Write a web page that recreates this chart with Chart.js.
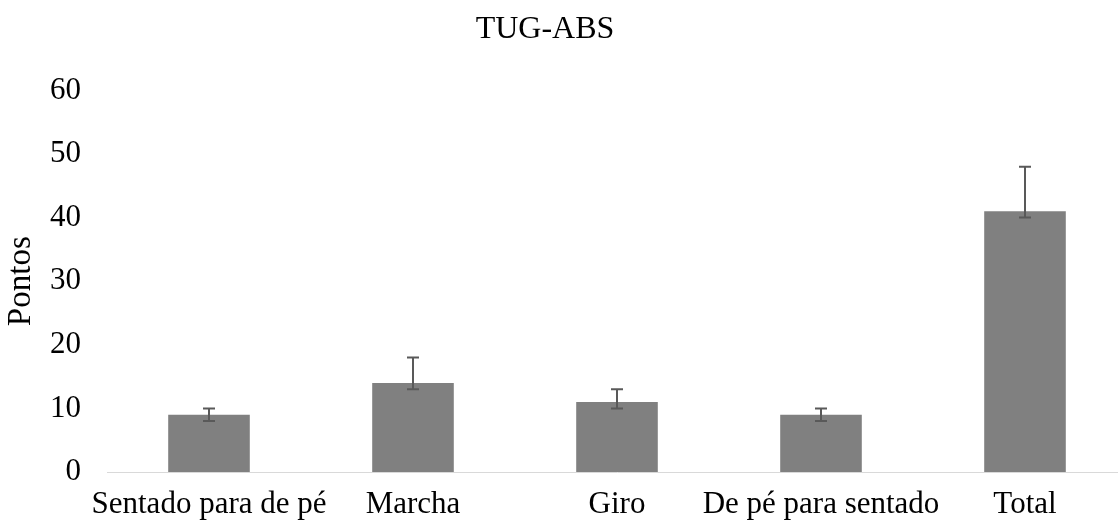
<!DOCTYPE html>
<html>
<head>
<meta charset="utf-8">
<script src="https://cdn.jsdelivr.net/npm/chart.js@4"></script>
<style>
  html, body { margin: 0; padding: 0; background: #fff; overflow: hidden; }
  canvas { display: block; }
</style>
</head>
<body>
<!-- a little wider than the window: the plot runs past the right edge, as in the original -->
<canvas id="chart" width="1127" height="524"></canvas>
<script>
var categories = ['Sentado para de pé', 'Marcha', 'Giro', 'De pé para sentado', 'Total'];
var values = [9, 14, 11, 9, 41];
var errUp = [1, 4, 2, 1, 7];
var errDown = [1, 1, 1, 1, 1];
var yTicks = [0, 10, 20, 30, 40, 50, 60];

var errorBars = {
    id: 'errorBars',
    afterDatasetsDraw: function (chart) {
        var ctx = chart.ctx;
        var meta = chart.getDatasetMeta(0);
        var y = chart.scales.y;
        ctx.save();
        ctx.strokeStyle = '#595959';
        ctx.lineWidth = 2;
        meta.data.forEach(function (bar, i) {
            var top = y.getPixelForValue(values[i] + errUp[i]);
            var bottom = y.getPixelForValue(values[i] - errDown[i]);
            var x = bar.x;
            ctx.beginPath();
            ctx.moveTo(x, top);
            ctx.lineTo(x, bottom);
            ctx.moveTo(x - 6, top);
            ctx.lineTo(x + 6, top);
            ctx.moveTo(x - 6, bottom);
            ctx.lineTo(x + 6, bottom);
            ctx.stroke();
        });
        ctx.restore();
    }
};

var ctx = document.getElementById('chart').getContext('2d');
var chart = new Chart(ctx, {
    type: 'bar',
    data: {
        labels: categories,
        datasets: [{
            data: values,
            backgroundColor: '#808080',
            categoryPercentage: 1,
            barPercentage: 0.40
        }]
    },
    options: {
        responsive: false,
        animation: false,
        // negative left padding so the title centres where the original has it
        layout: { padding: { top: 0, right: 0, bottom: 0, left: -37 } },
        plugins: {
            legend: { display: false },
            tooltip: { enabled: false },
            title: {
                display: true,
                text: 'TUG-ABS',
                color: '#000',
                font: { family: 'Liberation Serif', size: 32, weight: 'normal' },
                padding: { top: 10, bottom: 42 }
            }
        },
        scales: {
            x: {
                grid: { display: false, drawTicks: false },
                border: { color: '#d9d9d9', width: 1 },
                afterFit: function (axis) { axis.height = 52; },
                ticks: {
                    color: '#000',
                    font: { family: 'Liberation Serif', size: 31 },
                    maxRotation: 0,
                    autoSkip: false,
                    padding: 14
                }
            },
            y: {
                min: 0,
                max: 60,
                afterBuildTicks: function (axis) {
                    axis.ticks = yTicks.map(function (v) { return { value: v }; });
                },
                afterFit: function (axis) { axis.width = 144; },
                grid: { display: false, drawTicks: false },
                border: { display: false },
                ticks: {
                    color: '#000',
                    font: { family: 'Liberation Serif', size: 31 },
                    padding: 26
                },
                title: {
                    display: true,
                    text: 'Pontos',
                    color: '#000',
                    font: { family: 'Liberation Serif', size: 33 },
                    padding: { top: 39, bottom: 0 }
                }
            }
        }
    },
    plugins: [errorBars]
});
</script>
</body>
</html>
